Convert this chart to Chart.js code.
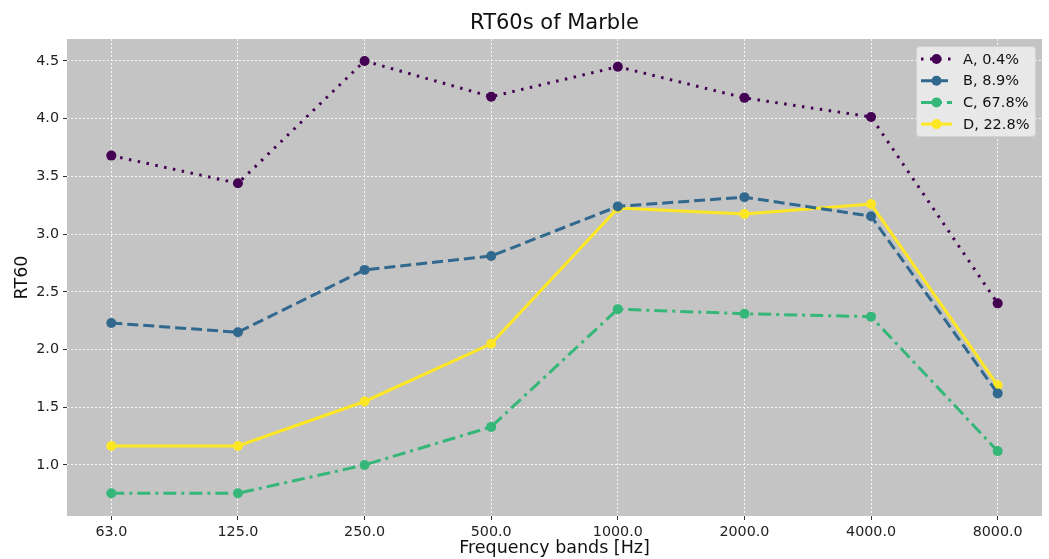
<!DOCTYPE html>
<html><head><meta charset="utf-8">
<script src="https://cdn.jsdelivr.net/npm/chart.js@4/dist/chart.umd.min.js"></script>
<style>html,body{margin:0;padding:0;background:#fff}#wrap{width:1049px;height:559px}</style>
</head><body><div id="wrap"><canvas id="c" width="1049" height="559"></canvas></div>
<script>
const categories = ['63.0','125.0','250.0','500.0','1000.0','2000.0','4000.0','8000.0'];
const seriesA = [3.68, 3.44, 4.50, 4.19, 4.45, 4.18, 4.015, 2.40];
const seriesB = [2.23, 2.15, 2.69, 2.81, 3.24, 3.32, 3.155, 1.62];
const seriesC = [0.755, 0.755, 1.00, 1.33, 2.35, 2.31, 2.285, 1.12];
const seriesD = [1.165, 1.165, 1.55, 2.05, 3.225, 3.175, 3.26, 1.69];
const seriesNames = ['A, 0.4%', 'B, 8.9%', 'C, 67.8%', 'D, 22.8%'];
const yTicks = [1.0, 1.5, 2.0, 2.5, 3.0, 3.5, 4.0, 4.5];
const chartTitle = 'RT60s of Marble';

const colors = ['#440154', '#31688e', '#35b779', '#fde725'];
const dashes = [[2.5, 6.5], [11, 5], [13, 5, 3, 5], []];
const allSeries = [seriesA, seriesB, seriesC, seriesD];
const FONT = 'DejaVu Sans';

const datasets = allSeries.map((s, i) => ({
  label: seriesNames[i],
  data: s.map((v, j) => ({x: j, y: v})),
  borderColor: colors[i],
  backgroundColor: colors[i],
  borderWidth: 3,
  borderDash: dashes[i],
  pointRadius: 5,
  pointHoverRadius: 5,
  pointBorderWidth: 0,
  tension: 0,
  fill: false
}));

const bgPlugin = {
  id: 'bg',
  beforeDraw(chart) {
    const {ctx, chartArea: a} = chart;
    ctx.save();
    ctx.fillStyle = '#c4c4c4';
    ctx.fillRect(a.left, a.top, a.right - a.left, a.bottom - a.top);
    ctx.fillStyle = '#111';
    ctx.font = '21px "' + FONT + '"';
    ctx.textAlign = 'center';
    ctx.textBaseline = 'middle';
    ctx.fillText(chartTitle, (a.left + a.right) / 2, 24);
    ctx.restore();
  }
};

const legendPlugin = {
  id: 'customLegend',
  afterDraw(chart) {
    const ctx = chart.ctx;
    const x0 = 916, y0 = 46, w = 119, h = 90;
    ctx.save();
    ctx.fillStyle = 'rgba(234,234,234,0.92)';
    ctx.strokeStyle = '#d2d2d2';
    ctx.lineWidth = 1;
    ctx.beginPath();
    ctx.roundRect(x0 + 0.5, y0 + 0.5, w, h, 3);
    ctx.fill();
    ctx.stroke();
    ctx.font = '14.5px "' + FONT + '"';
    ctx.textBaseline = 'middle';
    seriesNames.forEach((name, i) => {
      const y = 59 + i * 21.7;
      ctx.strokeStyle = colors[i];
      ctx.fillStyle = colors[i];
      ctx.lineWidth = 3;
      ctx.setLineDash(dashes[i]);
      ctx.beginPath();
      ctx.moveTo(921, y);
      ctx.lineTo(952, y);
      ctx.stroke();
      ctx.setLineDash([]);
      ctx.beginPath();
      ctx.arc(936.5, y, 5, 0, Math.PI * 2);
      ctx.fill();
      ctx.fillStyle = '#111';
      ctx.fillText(name, 963, y + 1);
    });
    ctx.restore();
  }
};

new Chart(document.getElementById('c'), {
  type: 'line',
  data: {datasets},
  options: {
    responsive: false,
    animation: false,
    devicePixelRatio: 1,
    layout: {padding: {left: 12, right: 7, top: 39, bottom: 0}},
    plugins: {
      legend: {display: false},
      tooltip: {enabled: false},
      title: {display: false}
    },
    scales: {
      x: {
        type: 'linear',
        min: -0.35,
        max: 7.35,
        afterBuildTicks(scale) { scale.ticks = categories.map((c, i) => ({value: i})); },
        afterFit(scale) { scale.height = 43; },
        ticks: {
          callback: (v) => categories[v] ?? '',
          color: '#222',
          font: {family: FONT, size: 14.3},
          padding: 4,
          maxRotation: 0,
          autoSkip: false
        },
        grid: {
          color: '#ffffff',
          lineWidth: 0.9,
          drawTicks: true,
          tickLength: 4,
          tickColor: '#333',
          tickWidth: 1,
          tickBorderDash: []
        },
        border: {display: false, dash: [2, 2]},
        title: {
          display: true,
          text: 'Frequency bands [Hz]',
          color: '#111',
          font: {family: FONT, size: 17.5},
          padding: {top: 0, bottom: 0}
        }
      },
      y: {
        type: 'linear',
        min: 0.558,
        max: 4.69,
        afterBuildTicks(scale) { scale.ticks = yTicks.map(v => ({value: v})); },
        afterFit(scale) { scale.width = 55; },
        ticks: {
          callback: (v) => Number(v).toFixed(1),
          color: '#222',
          font: {family: FONT, size: 14.3},
          padding: 4
        },
        grid: {
          color: '#ffffff',
          lineWidth: 0.9,
          drawTicks: true,
          tickLength: 4,
          tickColor: '#333',
          tickWidth: 1,
          tickBorderDash: []
        },
        border: {display: false, dash: [2, 2]},
        title: {
          display: true,
          text: 'RT60',
          color: '#111',
          font: {family: FONT, size: 17.5},
          padding: {top: 0, bottom: 4}
        }
      }
    }
  },
  plugins: [bgPlugin, legendPlugin]
});
</script>
</body></html>
